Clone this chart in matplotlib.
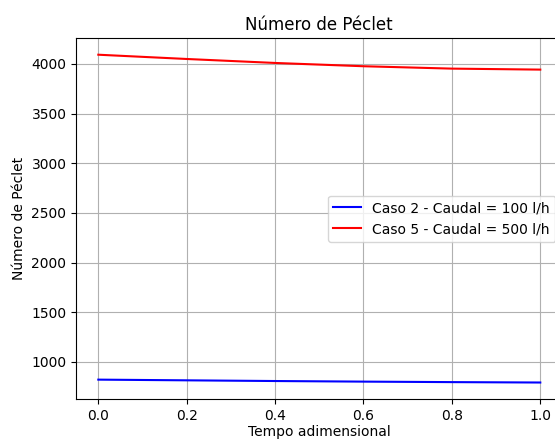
import matplotlib
matplotlib.use('Agg')
import matplotlib.pyplot as plt

# dimensionless time and Peclet numbers
tempo = [0.0, 0.2, 0.4, 0.6, 0.8, 1.0]
pe_caso2 = [822, 815, 808, 802, 797, 793]
pe_caso5 = [4093, 4050, 4010, 3977, 3953, 3943]

fig = plt.figure(figsize=(5.55, 4.42), dpi=100)
# axes run a bit past the right edge, like the cropped original
ax = fig.add_axes([0.1373, 0.0975, 0.876, 0.8158])

ax.plot(tempo, pe_caso2, color='blue', label='Caso 2 - Caudal = 100 l/h')
ax.plot(tempo, pe_caso5, color='red', label='Caso 5 - Caudal = 500 l/h')

ax.set_title('Número de Péclet')
ax.set_xlabel('Tempo adimensional', labelpad=2)
ax.set_ylabel('Número de Péclet')
ax.grid(True)
ax.legend(loc='center right')

fig.savefig('out.png', dpi=100)
